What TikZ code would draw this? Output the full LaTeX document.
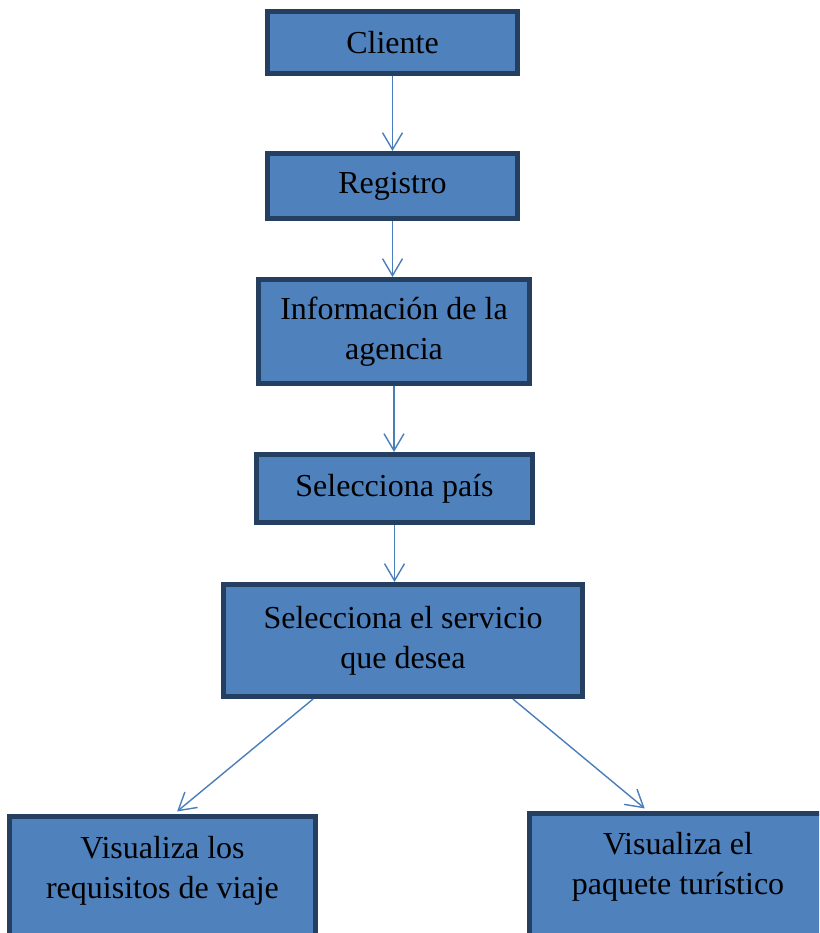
\documentclass[tikz,border=0pt]{standalone}
\usepackage{fontspec}
\setmainfont{Liberation Serif}
\usetikzlibrary{arrows.meta,calc}
\definecolor{cajaazul}{HTML}{4F81BD}
\definecolor{bordeazul}{HTML}{243F60}
\definecolor{flechaazul}{HTML}{4A7EBB}
\begin{document}
\begin{tikzpicture}[x=1pt,y=-1pt,
  caja/.style={rectangle, fill=cajaazul, draw=bordeazul, line width=5pt, align=center, font=\fontsize{32}{40}\selectfont},
  flecha/.style={-{Straight Barb[length=17pt,width=20pt]}, draw=flechaazul, line width=1.4pt}]

\useasboundingbox (0,0) rectangle (819,933);
\clip (0,0) rectangle (819,933);

\node[caja, minimum width=250pt, minimum height=62pt] (cliente) at (392.5,42.5) {Cliente};
\node[caja, minimum width=250pt, minimum height=65pt] (registro) at (392.5,186) {Registro};
\node[caja, minimum width=271pt, minimum height=104pt] (informacion) at (394,331.5) {Información de la\\agencia};
\node[caja, minimum width=276pt, minimum height=68pt] (pais) at (394.5,488.5) {Selecciona país};
\node[caja, minimum width=359pt, minimum height=112pt] (servicio) at (403,640.5) {Selecciona el servicio\\que desea};
\node[caja, minimum width=306pt, minimum height=147pt, text depth=45pt] (requisitos) at (162.5,890) {Visualiza los\\requisitos de viaje};
\node[caja, minimum width=297pt, minimum height=147pt, text depth=48pt] (paquete) at (678,887) {Visualiza el\\paquete turístico};

\draw[flecha] (cliente.south) -- (cliente.south |- registro.north);
\draw[flecha] (registro.south) -- (registro.south |- informacion.north);
\draw[flecha] (informacion.south) -- (informacion.south |- pais.north);
\draw[flecha] (pais.south) -- (pais.south |- servicio.north);
\draw[flecha, shorten >=4pt] ($(servicio.south west)!0.253!(servicio.south east)$) -- ($(requisitos.north west)!0.537!(requisitos.north east)$);
\draw[flecha, shorten >=4pt] ($(servicio.south west)!0.802!(servicio.south east)$) -- ($(paquete.north west)!0.40!(paquete.north east)$);

\end{tikzpicture}
\end{document}
